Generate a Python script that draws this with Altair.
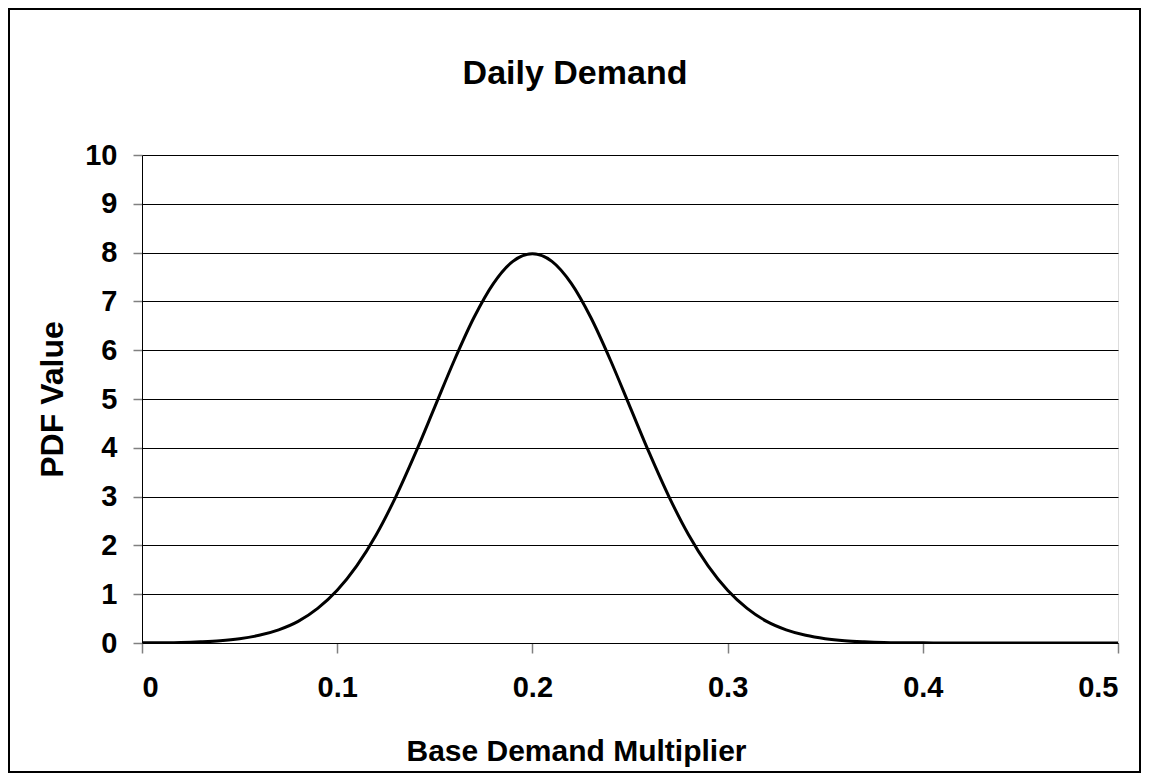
import altair as alt
import pandas as pd

# Data
x_vals = [0.00, 0.01, 0.02, 0.03, 0.04, 0.05, 0.06, 0.07, 0.08, 0.09,
          0.10, 0.11, 0.12, 0.13, 0.14, 0.15, 0.16, 0.17, 0.18, 0.19,
          0.20, 0.21, 0.22, 0.23, 0.24, 0.25, 0.26, 0.27, 0.28, 0.29,
          0.30, 0.31, 0.32, 0.33, 0.34, 0.35, 0.36, 0.37, 0.38, 0.39,
          0.40, 0.41, 0.42, 0.43, 0.44, 0.45, 0.46, 0.47, 0.48, 0.49, 0.50]
pdf_vals = [0.003, 0.006, 0.012, 0.026, 0.048, 0.089, 0.158, 0.270, 0.443, 0.709,
            1.080, 1.579, 2.218, 2.995, 3.884, 4.839, 5.794, 6.664, 7.365, 7.821,
            7.979, 7.821, 7.365, 6.664, 5.794, 4.839, 3.884, 2.995, 2.218, 1.579,
            1.080, 0.709, 0.443, 0.270, 0.158, 0.089, 0.048, 0.026, 0.012, 0.006,
            0.003, 0.001, 0.0005, 0.0002, 0.0001, 0.0, 0.0, 0.0, 0.0, 0.0, 0.0]
x_ticks = [0, 0.1, 0.2, 0.3, 0.4, 0.5]
y_ticks = [0, 1, 2, 3, 4, 5, 6, 7, 8, 9, 10]

title_text = "Daily Demand"
x_title = "Base Demand Multiplier"
y_title = "PDF Value"

df = pd.DataFrame({"x": x_vals, "y": pdf_vals})

FONT = "Liberation Sans"
W, H = 976, 488
PAD_L, PAD_T, PAD_R, PAD_B = 134, 147, 23, 130

line = alt.Chart(df).mark_line(color="black", strokeWidth=3, clip=True,
                               interpolate="monotone").encode(
    x=alt.X("x:Q",
            scale=alt.Scale(domain=[0, 0.5], nice=False, zero=False),
            axis=alt.Axis(values=x_ticks, format=".1~f", title=x_title,
                          grid=False, domain=True, domainColor="black",
                          tickColor="#808080", tickSize=10, tickWidth=1.5,
                          labelFont=FONT, labelFontSize=29, labelFontWeight="bold",
                          labelColor="black", labelPadding=20,
                          titleFont=FONT, titleFontSize=30, titleFontWeight="bold",
                          titleColor="black", titleX=434, titleY=117,
                          titleBaseline="alphabetic", titleAlign="center")),
    y=alt.Y("y:Q",
            scale=alt.Scale(domain=[0, 10], nice=False),
            axis=alt.Axis(values=y_ticks, format="d", title=y_title,
                          grid=True, gridColor="black", gridWidth=1,
                          domain=True, domainColor="black",
                          tickColor="#808080", tickSize=9, tickWidth=1.5,
                          labelFont=FONT, labelFontSize=29, labelFontWeight="bold",
                          labelColor="black", labelPadding=16,
                          titleFont=FONT, titleFontSize=32, titleFontWeight="bold",
                          titleColor="black", titleX=-80, titleY=244,
                          titleBaseline="alphabetic", titleAlign="center",
                          titleAngle=270)),
)

frame = alt.Chart(pd.DataFrame({"k": [0]})).mark_rect(
    fill=None, stroke="black", strokeWidth=2, clip=False
).encode(
    x=alt.value(-133), x2=alt.value(W + PAD_R - 1),
    y=alt.value(-146), y2=alt.value(H + PAD_B - 1),
)

title = alt.Chart(pd.DataFrame({"t": [title_text]})).mark_text(
    font=FONT, fontSize=34, fontWeight="bold", color="black",
    align="center", baseline="alphabetic"
).encode(text="t:N", x=alt.value(433), y=alt.value(-71))

chart = alt.layer(frame, title, line).properties(
    width=W, height=H,
    autosize=alt.AutoSizeParams(type="none"),
    padding={"left": PAD_L, "top": PAD_T, "right": PAD_R, "bottom": PAD_B},
).configure_view(stroke="black", strokeWidth=1).configure(background="white")

chart.save("out.html", embed_options={"renderer": "svg", "actions": False})
